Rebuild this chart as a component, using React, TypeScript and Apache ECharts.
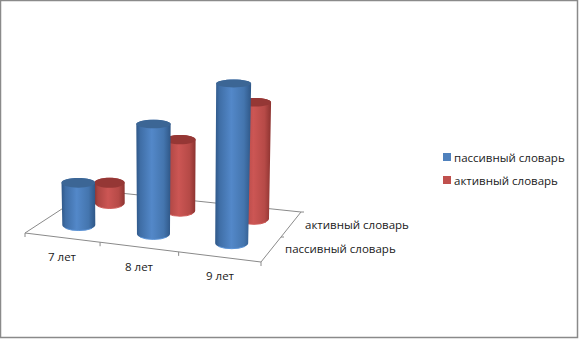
import React, { useEffect, useRef } from "react";
import * as echarts from "echarts";

const categories = ["7 лет", "8 лет", "9 лет"];
const seriesNames = ["пассивный словарь", "активный словарь"];
const passiveValues = [25, 65, 94.5];
const activeValues = [12, 42, 69];

const FONT = "'Open Sans', sans-serif";
const FL = [25, 233];
const FR = [261, 262];
const BR = [301, 212];
const BL = [91, 190];
const GRID = { left: 20, top: 40, width: 300, height: 169 };
const PERSPECTIVE = 0.933;

function lerp(a: number[], b: number[], t: number) {
  return [a[0] + (b[0] - a[0]) * t, a[1] + (b[1] - a[1]) * t];
}
function warp(u: number) {
  return (u * PERSPECTIVE) / (1 + (PERSPECTIVE - 1) * u);
}
function floorPoint(u: number, v: number) {
  const w = warp(u);
  const p = lerp(lerp(FL, FR, w), lerp(BL, BR, w), v);
  return [p[0] + 1.2, p[1] - 1.5];
}

const palettes = [
  {
    top: "#3c6695",
    rim: "#5a92d6",
    stops: [
      [0, "#2f5787"],
      [0.12, "#3f6ea6"],
      [0.45, "#5388c9"],
      [0.8, "#4475ae"],
      [1, "#2f5787"],
    ],
  },
  {
    top: "#953735",
    rim: "#cf5a57",
    stops: [
      [0, "#8c3330"],
      [0.12, "#ad4643"],
      [0.45, "#cc5654"],
      [0.8, "#b64a47"],
      [1, "#8c3330"],
    ],
  },
];

function cylinder(depth: number, radius: number, palette: (typeof palettes)[number]) {
  return (params: any, api: any) => {
    const i = api.value(0);
    const c = api.coord([i, api.value(1)]);
    const base = api.coord([i, 0]);
    const sys = params.coordSys;
    const u = (c[0] - sys.x) / sys.width;
    const h = base[1] - c[1];
    const p = floorPoint(u, depth);
    const r = radius;
    const rTop = r * (1 + h * 0.00037);
    const ry = 5.5;
    const ryTop = 5.2 - h * 0.008;
    const tx = p[0] + (u - 0.5) * h * 0.037;
    const ty = p[1] - h;
    const body =
      `M${p[0] - r} ${p[1]} A${r} ${ry} 0 0 0 ${p[0] + r} ${p[1]} ` +
      `L${tx + rTop} ${ty} A${rTop} ${ryTop} 0 0 0 ${tx - rTop} ${ty} Z`;
    const rim = `M${p[0] - r * 0.8} ${p[1] + ry * 0.6} A${r} ${ry} 0 0 0 ${p[0] + r * 0.8} ${p[1] + ry * 0.6}`;
    return {
      type: "group",
      children: [
        {
          type: "path",
          shape: { pathData: body },
          style: {
            fill: new echarts.graphic.LinearGradient(
              0, 0, 1, 0,
              palette.stops.map(([offset, color]) => ({ offset, color }))
            ),
          },
        },
        {
          type: "path",
          shape: { pathData: rim },
          style: { fill: "none", stroke: palette.rim, lineWidth: 1 },
        },
        {
          type: "ellipse",
          shape: { cx: tx, cy: ty, rx: rTop, ry: ryTop },
          style: { fill: palette.top },
        },
      ],
    };
  };
}

function line(a: number[], b: number[]) {
  return {
    type: "line",
    z: 0,
    silent: true,
    shape: { x1: a[0], y1: a[1], x2: b[0], y2: b[1] },
    style: { stroke: "#8a8a8a", lineWidth: 1 },
  };
}

function label(text: string, x: number, y: number, align: string) {
  return {
    type: "text",
    z: 5,
    silent: true,
    x,
    y,
    style: {
      text,
      fill: "#1a1a1a",
      font: `11.5px ${FONT}`,
      textAlign: align,
      textVerticalAlign: "middle",
    },
  };
}

export default function App() {
  const ref = useRef<HTMLDivElement>(null);
  useEffect(() => {
    const chart = echarts.init(ref.current!, undefined, { renderer: "svg" });
    const frontTicks = [0, 1 / 3, 2 / 3, 1].map((t) => {
      const p = lerp(FL, FR, warp(t));
      return line(p, [p[0], p[1] + 4]);
    });
    const sideTicks = [0.5, 1].map((t) => {
      const p = lerp(FR, BR, t);
      return line(p, [p[0] + 3, p[1]]);
    });
    chart.setOption({
      animation: false,
      backgroundColor: "#ffffff",
      grid: GRID,
      xAxis: { type: "category", data: categories, show: false },
      yAxis: { type: "value", min: 0, max: 100, show: false },
      legend: {
        data: seriesNames,
        orient: "vertical",
        left: 438,
        top: 146,
        itemWidth: 8,
        itemHeight: 8,
        itemGap: 11,
        icon: "rect",
        selectedMode: false,
        textStyle: { fontFamily: FONT, fontSize: 11.5, color: "#1a1a1a", padding: [0, 0, 0, -2] },
      },
      graphic: [
        {
          type: "rect",
          z: 0,
          silent: true,
          shape: { x: 0.5, y: 0.5, width: 577, height: 337 },
          style: { fill: "none", stroke: "#8a8a8a", lineWidth: 1.5 },
        },
        line(FL, FR),
        line(FR, BR),
        line(BR, BL),
        line(BL, FL),
        ...frontTicks,
        ...sideTicks,
        label(categories[0], 62, 256, "center"),
        label(categories[1], 139, 266, "center"),
        label(categories[2], 220, 275, "center"),
        label(seriesNames[1], 305, 224, "left"),
        label(seriesNames[0], 285, 248, "left"),
      ],
      series: [
        {
          name: seriesNames[1],
          type: "custom",
          z: 2,
          itemStyle: { color: "#c0504d" },
          renderItem: cylinder(0.75, 15, palettes[1]),
          encode: { x: 0, y: 1 },
          data: activeValues.map((v, i) => [i, v]),
        },
        {
          name: seriesNames[0],
          type: "custom",
          z: 3,
          itemStyle: { color: "#4f81bd" },
          renderItem: cylinder(0.25, 16.5, palettes[0]),
          encode: { x: 0, y: 1 },
          data: passiveValues.map((v, i) => [i, v]),
        },
      ],
    });
    return () => chart.dispose();
  }, []);
  return (
    <div
      ref={ref}
      style={{ position: "absolute", left: 0, top: 0, width: 579, height: 339 }}
    />
  );
}
